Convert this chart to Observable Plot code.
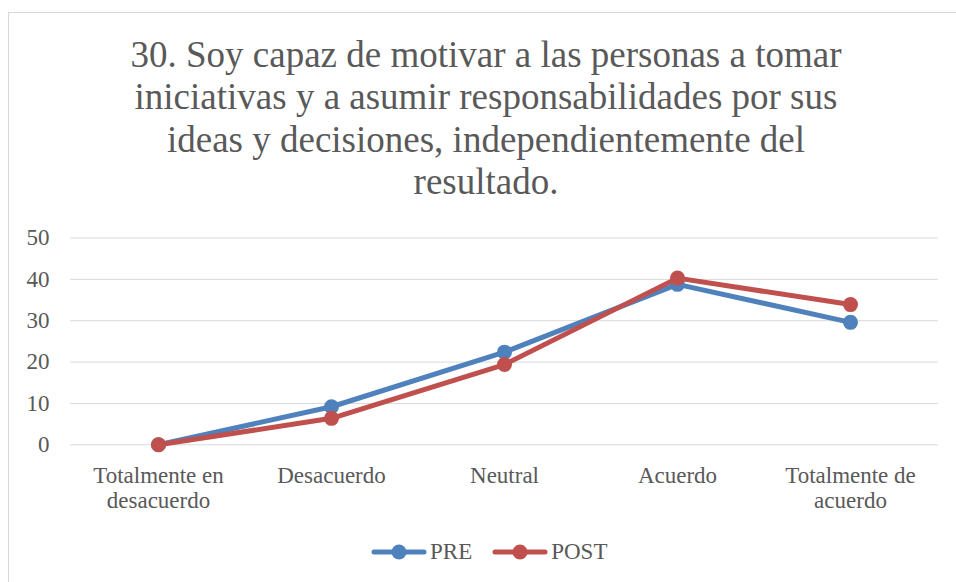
<!DOCTYPE html>
<html>
<head>
<meta charset="utf-8">
<script src="https://cdn.jsdelivr.net/npm/d3@7"></script>
<script src="https://cdn.jsdelivr.net/npm/@observablehq/plot@0.6"></script>
<style>
  html, body { margin: 0; padding: 0; background: #fff; overflow: hidden; }
  body { width: 956px; height: 582px; position: relative; font-family: 'Liberation Serif', serif; color: #595959; }
  #frame { position: absolute; left: 8px; top: 12px; width: 970px; height: 620px; border: 1px solid #d9d9d9; box-sizing: border-box; }
  #title { position: absolute; left: 8px; width: 956px; top: 33.6px; text-align: center; font-family: 'Liberation Serif', serif; font-size: 37px; line-height: 42.5px; color: #595959; }
  #chart { position: absolute; left: 0; top: 220px; }
  #legend { position: absolute; left: 371px; top: 540px; height: 23px; display: flex; align-items: center; font-family: 'Liberation Serif', serif; font-size: 23px; line-height: 23px; color: #595959; }
  #legend .item { display: flex; align-items: center; margin-right: 20px; }
  #legend svg { margin-right: 3px; }
</style>
</head>
<body>
<div id="frame"></div>
<div id="title">30. Soy capaz de motivar a las personas a tomar<br>iniciativas y a asumir responsabilidades por sus<br>ideas y decisiones, independientemente del<br>resultado.</div>
<div id="chart"></div>
<div id="legend"></div>
<script>
const categories = ["Totalmente en\ndesacuerdo", "Desacuerdo", "Neutral", "Acuerdo", "Totalmente de\nacuerdo"];
const preValues = [0, 9.2, 22.4, 38.8, 29.6];
const postValues = [0, 6.4, 19.4, 40.3, 33.9];
const seriesNames = ["PRE", "POST"];
const seriesColors = ["#4f81bd", "#c0504d"];
const yTicks = [0, 10, 20, 30, 40, 50];

const data = [];
categories.forEach((c, i) => {
  data.push({cat: c, series: "PRE", value: preValues[i]});
  data.push({cat: c, series: "POST", value: postValues[i]});
});

const font = "'Liberation Serif', serif";
const seriesMarks = seriesNames.flatMap(s => {
  const d = data.filter(r => r.series === s);
  return [
    Plot.line(d, {x: "cat", y: "value", stroke: "series", strokeWidth: 5}),
    Plot.dot(d, {x: "cat", y: "value", fill: "series", r: 7.5})
  ];
});

const chart = Plot.plot({
  width: 956,
  height: 300,
  marginLeft: 70,
  marginRight: 18,
  marginTop: 17.5,
  marginBottom: 75.7,
  x: {type: "point", domain: categories, padding: 0.5},
  y: {domain: [0, 50]},
  color: {domain: seriesNames, range: seriesColors},
  style: {fontFamily: font, fontSize: "23px", color: "#595959", background: "transparent", overflow: "visible"},
  marks: [
    Plot.gridY(yTicks, {stroke: "#d9d9d9", strokeOpacity: 1, strokeWidth: 1}),
    Plot.axisY(yTicks, {tickSize: 0, tickPadding: 21, label: null, fontSize: 23}),
    Plot.axisX({tickSize: 0, tickPadding: 20.5, label: null, fontSize: 23, lineHeight: 1.087}),
    ...seriesMarks
  ]
});
document.getElementById("chart").appendChild(chart);

const legend = document.getElementById("legend");
seriesNames.forEach((s, i) => {
  const item = document.createElement("div");
  item.className = "item";
  const ns = "http://www.w3.org/2000/svg";
  const svg = document.createElementNS(ns, "svg");
  svg.setAttribute("width", 56);
  svg.setAttribute("height", 16);
  const ln = document.createElementNS(ns, "line");
  ln.setAttribute("x1", 3); ln.setAttribute("x2", 53);
  ln.setAttribute("y1", 8); ln.setAttribute("y2", 8);
  ln.setAttribute("stroke", seriesColors[i]);
  ln.setAttribute("stroke-width", 5);
  ln.setAttribute("stroke-linecap", "round");
  const c = document.createElementNS(ns, "circle");
  c.setAttribute("cx", 28); c.setAttribute("cy", 8); c.setAttribute("r", 7.5);
  c.setAttribute("fill", seriesColors[i]);
  svg.appendChild(ln); svg.appendChild(c);
  const t = document.createElement("span");
  t.textContent = s;
  item.appendChild(svg); item.appendChild(t);
  legend.appendChild(item);
});
</script>
</body>
</html>
